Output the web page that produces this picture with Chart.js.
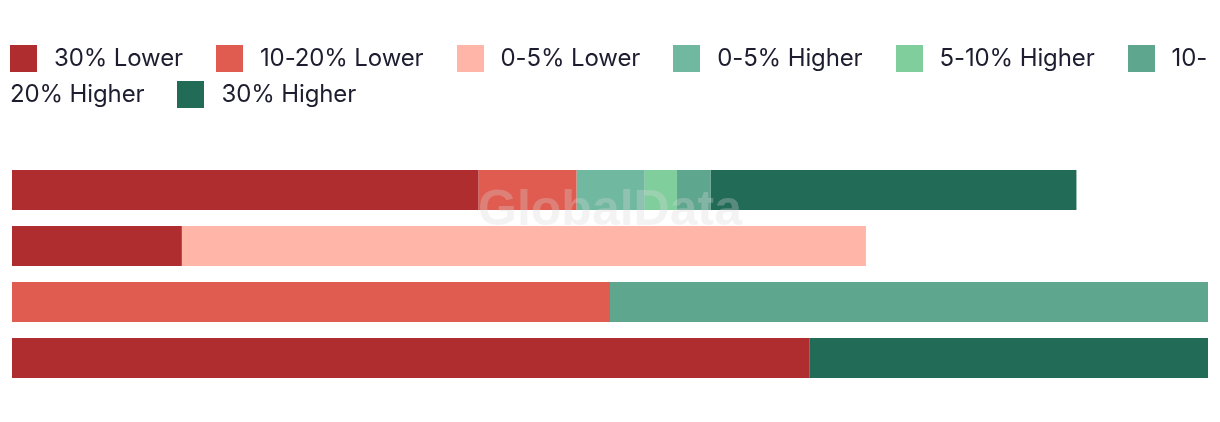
<!DOCTYPE html>
<html>
<head>
<meta charset="utf-8">
<script src="https://cdn.jsdelivr.net/npm/chart.js@4/dist/chart.umd.min.js"></script>
<style>
  html, body { margin: 0; padding: 0; background: #fff; }
  .wrap { position: relative; width: 1220px; height: 422px; overflow: hidden; }
  #legend {
    position: absolute; left: 10px; top: 40px; width: 1208px;
    font-family: Inter, "Noto Sans", sans-serif; font-size: 24px;
    letter-spacing: -0.12px;
    line-height: 36px; color: #1d1d2f;
  }
  #legend .item { margin-right: 33px; }
  #legend .box {
    display: inline-block; width: 27px; height: 27px;
    vertical-align: middle; margin-right: 17px; position: relative; top: -1px;
  }
  canvas { position: absolute; left: 0; top: 0; }
</style>
</head>
<body>
<div class="wrap">
  <canvas id="chart" width="1220" height="422"></canvas>
  <div id="legend"></div>
</div>
<script>
// rows have no visible labels in the picture
const categories = ['Row 1', 'Row 2', 'Row 3', 'Row 4'];

const seriesNames = ['30% Lower', '10-20% Lower', '0-5% Lower', '0-5% Higher', '5-10% Higher', '10-20% Higher', '30% Higher'];
const seriesColors = ['#b02d2f', '#e05b50', '#ffb6a8', '#70b9a0', '#80ce9c', '#5fa68f', '#226b56'];

// values in % of the axis (0-100)
const lower30 = [39.0, 14.2, 0, 66.7];
const lower10to20 = [8.2, 0, 50, 0];
const lower0to5 = [0, 57.2, 0, 0];
const higher0to5 = [5.7, 0, 0, 0];
const higher5to10 = [2.7, 0, 0, 0];
const higher10to20 = [2.8, 0, 50, 0];
const higher30 = [30.6, 0, 0, 33.3];

const seriesValues = [lower30, lower10to20, lower0to5, higher0to5, higher5to10, higher10to20, higher30];

// html legend so the text wraps like the original
const legendEl = document.getElementById('legend');
seriesNames.forEach((name, i) => {
  const item = document.createElement('span');
  item.className = 'item';
  const box = document.createElement('span');
  box.className = 'box';
  box.style.background = seriesColors[i];
  item.appendChild(box);
  item.appendChild(document.createTextNode(name.replace(/-/g, '-\u200B')));
  legendEl.appendChild(item);
});

const watermark = {
  id: 'watermark',
  afterDatasetsDraw(chart) {
    const ctx = chart.ctx;
    ctx.save();
    ctx.font = 'bold 50px "Liberation Sans", Arial, sans-serif';
    ctx.fillStyle = 'rgba(215, 215, 215, 0.3)';
    ctx.textAlign = 'center';
    ctx.textBaseline = 'alphabetic';
    ctx.fillText('GlobalData', 610, 225);
    ctx.restore();
  },
};

new Chart(document.getElementById('chart').getContext('2d'), {
  type: 'bar',
  data: {
    labels: categories,
    datasets: seriesNames.map((name, i) => ({
      label: name,
      data: seriesValues[i],
      backgroundColor: seriesColors[i],
      borderWidth: 0,
      barPercentage: 40 / 56,
      categoryPercentage: 1,
    })),
  },
  options: {
    indexAxis: 'y',
    responsive: false,
    animation: false,
    layout: { padding: { left: 12, right: 12, top: 162, bottom: 36 } },
    scales: {
      x: { stacked: true, min: 0, max: 100, display: false },
      y: { stacked: true, display: false },
    },
    plugins: {
      legend: { display: false },
      tooltip: { enabled: false },
    },
  },
  plugins: [watermark],
});
</script>
</body>
</html>
